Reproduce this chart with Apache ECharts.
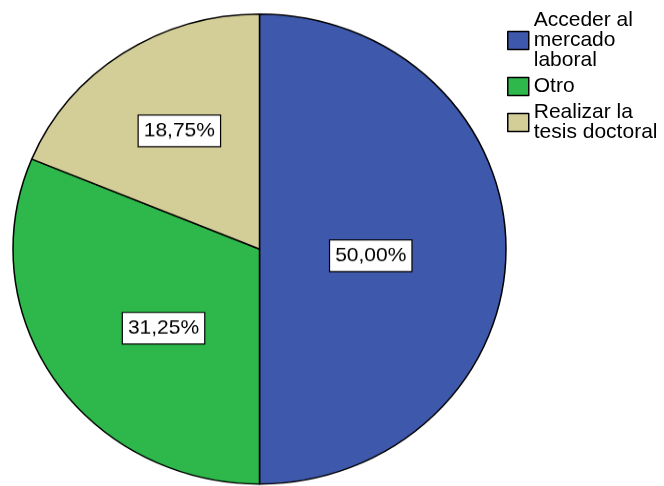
<!DOCTYPE html>
<html>
<head>
<meta charset="utf-8">
<script src="https://cdn.jsdelivr.net/npm/echarts@6/dist/echarts.min.js"></script>
<style>
  html, body { margin: 0; padding: 0; background: #fff; width: 664px; height: 486px; overflow: hidden; position: relative; }
  #pie { position: absolute; left: 0; top: 0; width: 664px; height: 520px; transform: scaleY(0.9533); transform-origin: 0 0; }
  #legend { position: absolute; left: 0; top: 0; width: 664px; height: 486px; }
</style>
</head>
<body>
<div id="pie"></div>
<div id="legend"></div>
<script>
const categories = ['Acceder al\nmercado\nlaboral', 'Otro', 'Realizar la\ntesis doctoral'];
const values = [50.00, 31.25, 18.75];
const colors = ['#3e58ac', '#2eb84c', '#d3ce97'];
// label nudges (styling only)
const labelOffsets = [[-15, 7], [9, 13], [-10, -19]];

const data = categories.map((c, i) => ({
  name: c, value: values[i],
  itemStyle: { color: colors[i] },
  label: { offset: labelOffsets[i] }
}));
const FONT = '"Liberation Sans", Arial, sans-serif';

const pieChart = echarts.init(document.getElementById('pie'), null, { renderer: 'canvas' });
pieChart.setOption({
  animation: false,
  series: [{
    type: 'pie',
    center: [259.5, 261.2],
    radius: [0, 246.5],
    startAngle: 90,
    clockwise: true,
    data: data,
    itemStyle: { borderColor: '#000', borderWidth: 1.5 },
    emphasis: { disabled: true },
    label: {
      show: true,
      position: 'inside',
      formatter: p => p.percent.toFixed(2).replace('.', ',') + '%',
      color: '#000',
      fontFamily: FONT,
      fontSize: 21,
      backgroundColor: '#fff',
      borderColor: '#000',
      borderWidth: 1.2,
      padding: [6, 5, 5, 5]
    },
    labelLine: { show: false }
  }]
});

const legendChart = echarts.init(document.getElementById('legend'), null, { renderer: 'canvas' });
legendChart.setOption({
  animation: false,
  legend: {
    orient: 'vertical',
    left: 502,
    top: 5,
    itemWidth: 21,
    itemHeight: 18,
    itemGap: 5,
    icon: 'rect',
    selectedMode: false,
    itemStyle: { borderColor: '#000', borderWidth: 1.5 },
    textStyle: { fontFamily: FONT, fontSize: 21, lineHeight: 20, color: '#000', padding: [0, 0, 0, 0] },
    data: categories
  },
  series: [{
    type: 'pie',
    center: [-100, -100],
    radius: [0, 0],
    label: { show: false },
    data: data
  }]
});
</script>
</body>
</html>
